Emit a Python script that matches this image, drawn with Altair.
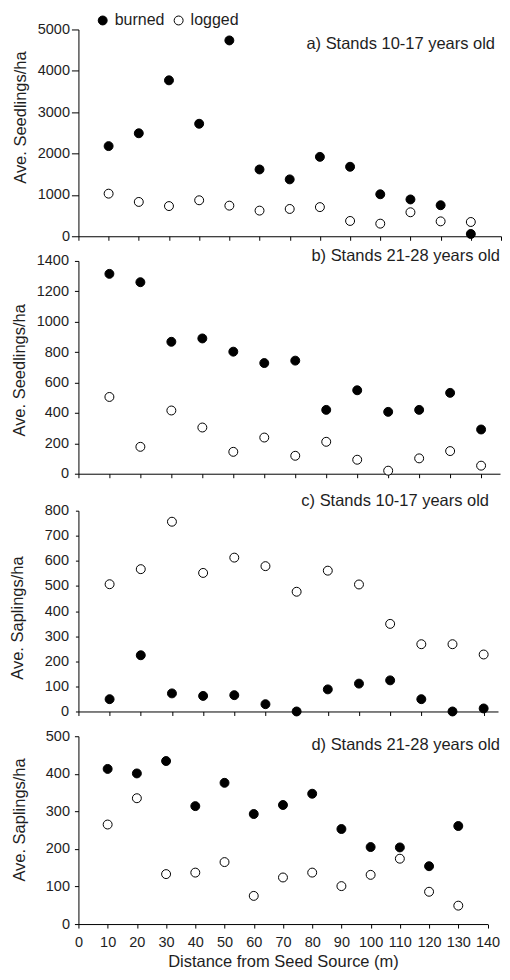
import altair as alt
import pandas as pd

# ---------------- data ----------------
dist = [10, 20, 30, 40, 50, 60, 70, 80, 90, 100, 110, 120, 130]

a_burned = [2180, 2490, 3770, 2720, 4735, 1615, 1375, 1920, 1680, 1015, 890, 750, 55]
a_logged = [1030, 830, 730, 870, 740, 620, 660, 705, 370, 305, 580, 360, 345]

b_burned = [1315, 1260, 868, 890, 803, 728, 744, 420, 549, 407, 420, 532, 291]
b_logged = [505, 177, 416, 304, 144, 238, 118, 210, 92, 20, 101, 149, 53]

c_burned = [49, 224, 72, 62, 65, 29, 0, 88, 111, 124, 49, 0, 12]
c_logged = [507, 567, 756, 552, 613, 579, 477, 561, 506, 349, 268, 268, 227]

d_burned = [413, 401, 434, 314, 376, 293, 317, 347, 253, 205, 204, 154, 261]
d_logged = [265, 335, 133, 137, 165, 75, 124, 137, 101, 131, 174, 86, 49]

series_names = ["burned", "logged"]
x_ticks_full = list(range(0, 141, 10))
x_ticks_cut = list(range(0, 131, 10))

FONT = "Liberation Sans"
INK = "#1e1e1e"

LEG_X = 16.3
LEG_Y = -17


def frame(burned, logged):
    return pd.DataFrame({
        "dist": dist + dist,
        "value": burned + logged,
        "type": ["burned"] * len(dist) + ["logged"] * len(dist),
    })


def panel(df, label, ymax, ystep, ytitle, width, xmax, xticks, height, plot_left,
          title_y, label_x, label_y, tick_size, label_pad, show_x=False):
    x_axis = alt.Axis(
        values=xticks, title="Distance from Seed Source (m)" if show_x else None,
        labels=show_x, tickSize=4, labelPadding=7.6, titlePadding=4.5,
        labelFontSize=14.5, titleFontSize=16.5, labelOverlap=False, labelFlush=False,
    )
    y_axis = alt.Axis(
        values=list(range(0, ymax + 1, ystep)), title=ytitle, format="d",
        tickSize=tick_size, labelPadding=label_pad,
        titleX=18 - plot_left, titleY=title_y, titleAngle=-90,
        titleAlign="center", titleBaseline="middle",
        labelFontSize=14.5, titleFontSize=16.5, labelOverlap=False,
    )
    pts = alt.Chart(df).mark_point(
        shape="circle", filled=True, size=80, stroke="black", strokeWidth=1, opacity=1
    ).encode(
        x=alt.X("dist:Q", scale=alt.Scale(domain=[0, xmax], nice=False, zero=False), axis=x_axis),
        y=alt.Y("value:Q", scale=alt.Scale(domain=[0, ymax], nice=False), axis=y_axis),
        fill=alt.Fill(
            "type:N",
            scale=alt.Scale(domain=series_names, range=["black", "white"]),
            legend=alt.Legend(
                title=None, orient="none", direction="horizontal",
                legendX=LEG_X, legendY=LEG_Y,
                symbolType="circle", symbolSize=80, symbolStrokeColor="black",
                symbolStrokeWidth=1, labelFontSize=16, labelFont=FONT,
                labelColor=INK, labelOffset=4, columnPadding=6, padding=0,
            ),
        ),
    )
    txt = alt.Chart(pd.DataFrame({"t": [label]})).mark_text(
        align="right", baseline="middle", fontSize=16.5, font=FONT, color=INK
    ).encode(x=alt.value(label_x), y=alt.value(label_y), text="t:N")
    return alt.layer(pts, txt).properties(width=width, height=height)


pa = panel(frame(a_burned, a_logged), "a) Stands 10-17 years old", 5000, 1000,
           "Ave. Seedlings/ha", 423, 140, x_ticks_full, 207, 76.3, 87.7, 417, 15, 7, 2)
pb = panel(frame(b_burned, b_logged), "b) Stands 21-28 years old", 1400, 200,
           "Ave. Seedlings/ha", 422, 136.1, x_ticks_cut, 213, 77, 109, 422, -5, 4, 6)
pc = panel(frame(c_burned, c_logged), "c) Stands 10-17 years old", 800, 100,
           "Ave. Saplings/ha", 420, 134.6, x_ticks_cut, 201, 79, 107, 411, -9.3, 3, 7)
pd_ = panel(frame(d_burned, d_logged), "d) Stands 21-28 years old", 500, 100,
            "Ave. Saplings/ha", 409.5, 140, x_ticks_full, 188, 76.7, 83.3, 422, 8.3, 4, 5,
            show_x=True)

top = alt.vconcat(pa, pb, spacing=4.7)
bottom = alt.vconcat(pc, pd_, spacing=9.8)

chart = alt.vconcat(top, bottom, spacing=11.7).resolve_scale(fill="shared").properties(
    padding={"left": 0.5, "top": 4, "right": 0, "bottom": 0}
).configure_view(stroke=None).configure_axis(
    grid=False, domainColor="black", tickColor="black", domainWidth=1, tickWidth=1,
    labelColor=INK, titleColor=INK, labelFont=FONT, titleFont=FONT,
    titleFontWeight="normal",
).configure_text(font=FONT)

chart.save("out.html", embed_options={"renderer": "svg", "actions": False})
